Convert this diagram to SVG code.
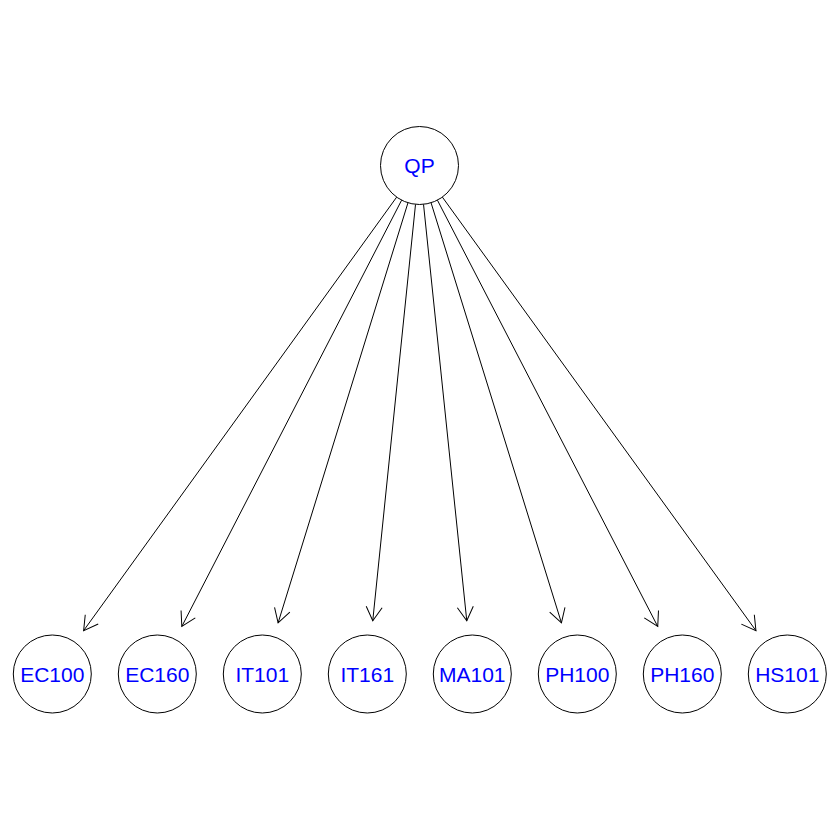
<svg xmlns="http://www.w3.org/2000/svg" width="840" height="840" viewBox="0 0 840 840">
  <style>
    .node circle { fill: #ffffff; stroke: #000000; stroke-width: 1; }
    .node text { font-family: "Liberation Sans", Arial, sans-serif; font-size: 21px; fill: #0000ff; text-anchor: middle; }
    .edge { stroke: #000000; stroke-width: 1; fill: none; marker-end: url(#arrow); }
  </style>
  <defs>
    <marker id="arrow" markerUnits="userSpaceOnUse" orient="auto" markerWidth="20" markerHeight="20" refX="0" refY="0" viewBox="-16 -10 20 20" overflow="visible">
      <path d="M -13.86 -8 L 0 0 L -13.86 8" fill="none" stroke="#000000" stroke-width="1"/>
    </marker>
  </defs>
  <rect width="840" height="840" fill="#ffffff"/>

  <!-- connectors from QP to each course -->
  <g id="edges">
    <line class="edge" x1="396.67" y1="197.12" x2="83.62" y2="630.63"/>
    <line class="edge" x1="401.63" y1="200.16" x2="181.82" y2="626.45"/>
    <line class="edge" x1="407.98" y1="202.76" x2="278.10" y2="622.89"/>
    <line class="edge" x1="415.52" y1="204.30" x2="372.76" y2="620.78"/>
    <line class="edge" x1="423.53" y1="204.29" x2="466.77" y2="620.79"/>
    <line class="edge" x1="431.06" y1="202.75" x2="561.44" y2="622.90"/>
    <line class="edge" x1="437.41" y1="200.15" x2="657.74" y2="626.47"/>
    <line class="edge" x1="442.36" y1="197.10" x2="755.95" y2="630.65"/>
  </g>

  <g id="QP" class="node">
    <circle cx="419.5" cy="165.5" r="39"/>
    <text x="419.5" y="173">QP</text>
  </g>
  <g id="EC100" class="node">
    <circle cx="52.3" cy="674" r="39"/>
    <text x="52.3" y="682">EC100</text>
  </g>
  <g id="EC160" class="node">
    <circle cx="157.3" cy="674" r="39"/>
    <text x="157.3" y="682">EC160</text>
  </g>
  <g id="IT101" class="node">
    <circle cx="262.3" cy="674" r="39"/>
    <text x="262.3" y="682">IT101</text>
  </g>
  <g id="IT161" class="node">
    <circle cx="367.3" cy="674" r="39"/>
    <text x="367.3" y="682">IT161</text>
  </g>
  <g id="MA101" class="node">
    <circle cx="472.3" cy="674" r="39"/>
    <text x="472.3" y="682">MA101</text>
  </g>
  <g id="PH100" class="node">
    <circle cx="577.3" cy="674" r="39"/>
    <text x="577.3" y="682">PH100</text>
  </g>
  <g id="PH160" class="node">
    <circle cx="682.3" cy="674" r="39"/>
    <text x="682.3" y="682">PH160</text>
  </g>
  <g id="HS101" class="node">
    <circle cx="787.3" cy="674" r="39"/>
    <text x="787.3" y="682">HS101</text>
  </g>
</svg>
